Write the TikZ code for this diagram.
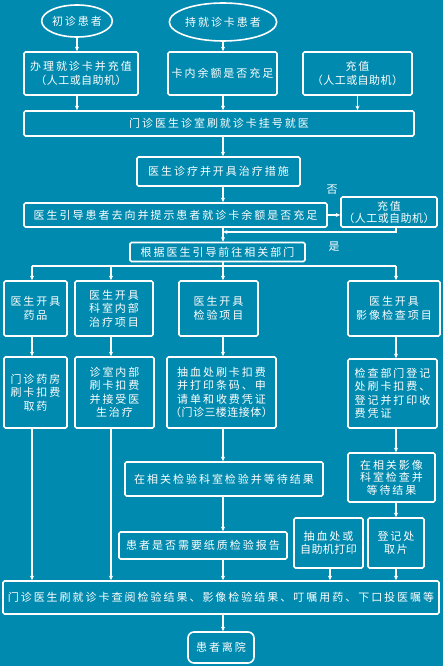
\documentclass[tikz,border=0pt]{standalone}
\usepackage{fontspec}
\usetikzlibrary{shapes.geometric,arrows.meta,calc}
\newfontfamily\cjk[LetterSpace=18]{Noto Sans CJK SC}
\newfontfamily\cjkt[LetterSpace=4]{Noto Sans CJK SC}
\definecolor{bgc}{RGB}{0,138,175}
\begin{document}
\begin{tikzpicture}[x=1pt,y=-1pt,
  box/.style={draw=white, line width=1.6pt, rounded corners=1.5pt, inner sep=0pt, align=center, text=white, font=\cjk\fontsize{11}{13.5}\selectfont},
  oval/.style={ellipse, draw=white, line width=1.6pt, inner sep=0pt, text=white, font=\cjk\fontsize{11}{13.5}\selectfont},
  arr/.style={draw=white, line width=1.1pt, -{Stealth[length=4.5pt,width=4pt]}},
  ln/.style={draw=white, line width=1.1pt},
  lab/.style={text=white, inner sep=0pt, font=\cjk\fontsize{11}{13.5}\selectfont}]
\fill[bgc] (0,0) rectangle (443,666);
\useasboundingbox (0,0) rectangle (443,666);

% top row
\node[oval, minimum width=64pt, minimum height=32pt] (e1) at (77,21) {初诊患者};
\node[oval, minimum width=96pt, minimum height=38pt] (e2) at (223,22) {持就诊卡患者};
\node[box, minimum width=114pt, minimum height=43pt] (b1) at (81,73.5) {办理就诊卡并充值\\{\cjkt（人工或自助机）}};
\node[box, minimum width=109pt, minimum height=43pt] (b2) at (222.5,73.5) {卡内余额是否充足};
\node[box, minimum width=109pt, minimum height=43pt] (b3) at (357.5,73.5) {充值\\{\cjkt（人工或自助机）}};
\node[box, minimum width=390pt, minimum height=25pt] (b4) at (219,123.5) {门诊医生诊室刷就诊卡挂号就医};
\node[box, minimum width=163pt, minimum height=29pt] (b5) at (218.5,171.5) {医生诊疗并开具治疗措施};
\node[box, minimum width=303pt, minimum height=24pt] (b6) at (175.5,215) {医生引导患者去向并提示患者就诊卡余额是否充足};
\node[box, minimum width=96pt, minimum height=30pt, font=\cjk\fontsize{11}{12}\selectfont] (b7) at (389,212) {充值\\{\cjkt（人工或自助机）}};
\node[box, minimum width=175pt, minimum height=19pt] (b8) at (217.5,252) {根据医生引导前往相关部门};

% row 3
\node[box, minimum width=63pt, minimum height=55pt] (r1) at (35.5,308.5) {医生开具\\药品};
\node[box, minimum width=78pt, minimum height=55pt] (r2) at (114,308.5) {医生开具\\科室内部\\治疗项目};
\node[box, minimum width=79pt, minimum height=55pt] (r3) at (218.5,308.5) {医生开具\\检验项目};
\node[box, minimum width=92pt, minimum height=55pt] (r4) at (394,308.5) {医生开具\\影像检查项目};

% row 4
\node[box, minimum width=63pt, minimum height=71pt] (s1) at (35.5,392.5) {门诊药房\\刷卡扣费\\取药};
\node[box, minimum width=79pt, minimum height=71pt] (s2) at (114.5,392.5) {诊室内部\\刷卡扣费\\并接受医\\生治疗};
\node[box, minimum width=109pt, minimum height=71pt] (s3) at (221.5,392.5) {抽血处刷卡扣费\\并打印条码、申\\请单和收费凭证\\{\cjkt（门诊三楼连接体）}};
\node[box, minimum width=89pt, minimum height=69pt, align=left] (s4) at (392.5,393.5) {检查部门登记\\处刷卡扣费、\\登记并打印收\\费凭证};

% row 5
\node[box, minimum width=198pt, minimum height=34pt] (t1) at (224,479) {在相关检验科室检验并等待结果};
\node[box, minimum width=87pt, minimum height=49pt, font=\cjk\fontsize{11}{12.5}\selectfont] (t2) at (391.5,477.5) {在相关影像\\科室检查并\\等待结果};

% row 6
\node[box, minimum width=168pt, minimum height=27pt] (u1) at (203,545.5) {患者是否需要纸质检验报告};
\node[box, minimum width=69pt, minimum height=50pt, font=\cjk\fontsize{11}{12.5}\selectfont] (u2) at (328.5,543) {抽血处或\\{\cjkt 自助机打印}};
\node[box, minimum width=56pt, minimum height=50pt, font=\cjk\fontsize{11}{12.5}\selectfont] (u3) at (396,543) {登记处\\取片};

% bottom
\node[box, minimum width=436pt, minimum height=33pt] (v) at (221,597.5) {门诊医生刷就诊卡查阅检验结果、影像检验结果、叮嘱用药、下口投医嘱等};
\node[box, rounded corners=6pt, minimum width=66pt, minimum height=31pt] (w) at (221,647.5) {患者离院};

% labels
\node[lab] (no) at (332,190) {否};
\node[lab] (yes) at (334,247) {是};

% helper coordinates
\coordinate (j1) at (223,232);
\coordinate (j2) at (223,266);
\coordinate (k1) at (32,266);
\coordinate (k2) at (111,266);
\coordinate (k4) at (396,266);

% connectors
\draw[arr] (e1) -- (e1 |- b1.north);
\draw[arr] (e2) -- (e2 |- b2.north);
\draw[arr] (e1 |- b1.south) -- (e1 |- b4.north);
\draw[arr] (e2 |- b2.south) -- (e2 |- b4.north);
\draw[arr] (b3.south) -- (b3.south |- b4.north);
\draw[arr] (e2 |- b4.south) -- (e2 |- b5.north);
\draw[arr] (e2 |- b5.south) -- (e2 |- b6.north);
\draw[arr] (b6.east) -- (b7.west |- b6.east);
\draw[arr] ([xshift=7pt]b7.south) |- (j1);
\draw[arr] (e2 |- b6.south) -- (e2 |- b8.north);
\draw[ln] (e2 |- b8.south) -- (j2);
\draw[ln] (k1) -- (k4);
\draw[arr] (k1) -- (k1 |- r1.north);
\draw[arr] (k2) -- (k2 |- r2.north);
\draw[arr] (j2) -- (j2 |- r3.north);
\draw[arr] (k4) -- (k4 |- r4.north);
\draw[arr] (k1 |- r1.south) -- (k1 |- s1.north);
\draw[arr] (k2 |- r2.south) -- (k2 |- s2.north);
\draw[arr] (j2 |- r3.south) -- (j2 |- s3.north);
\draw[arr] (k4 |- r4.south) -- (k4 |- s4.north);
\draw[arr] (k1 |- s1.south) -- (k1 |- v.north);
\draw[arr] (k2 |- s2.south) -- (k2 |- v.north);
\draw[arr] (j2 |- s3.south) -- (j2 |- t1.north);
\draw[arr] (j2 |- t1.south) -- (j2 |- u1.north);
\draw[arr] (j2 |- u1.south) -- (j2 |- v.north);
\draw[arr] (k4 |- s4.south) -- (k4 |- t2.north);
\draw[arr] (k4 |- t2.south) -- (k4 |- u3.north);
\draw[arr] (k4 |- u3.south) -- (k4 |- v.north);
\draw[arr] ([xshift=1.5pt]u2.south) -- ([xshift=1.5pt]u2.south |- v.north);
\draw[arr] (j2 |- v.south) -- (j2 |- w.north);
\end{tikzpicture}
\end{document}
